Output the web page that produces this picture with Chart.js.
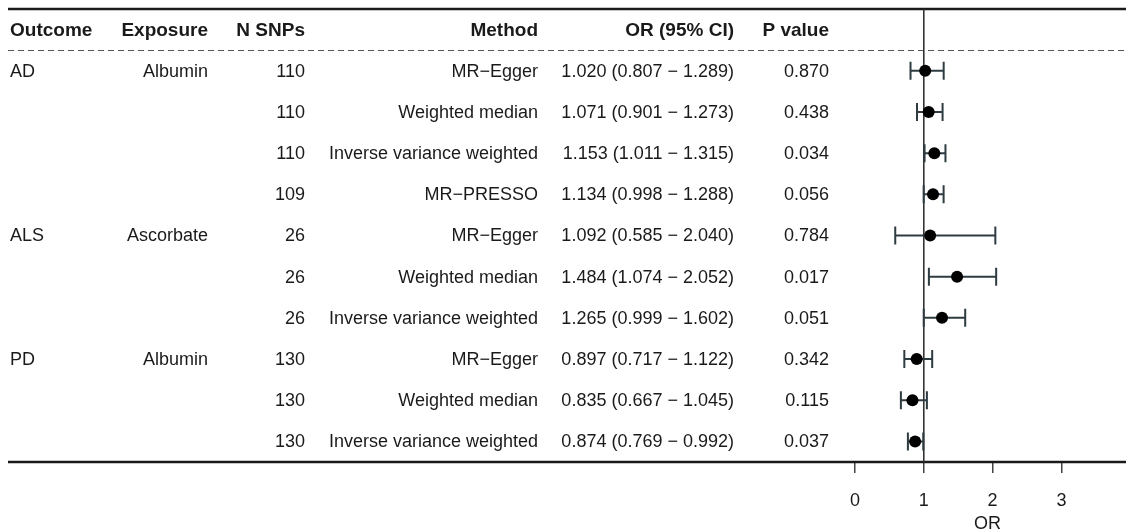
<!DOCTYPE html>
<html>
<head>
<meta charset="utf-8">
<script src="https://cdn.jsdelivr.net/npm/chart.js@4/dist/chart.umd.min.js"></script>
<style>
  html, body { margin: 0; padding: 0; background: #fff; }
</style>
</head>
<body>
<canvas id="forest" width="1126" height="532"></canvas>
<script>
// MR results, one entry per row
const outcomes = ['AD', '', '', '', 'ALS', '', '', 'PD', '', ''];
const exposures = ['Albumin', '', '', '', 'Ascorbate', '', '', 'Albumin', '', ''];
const nSnps = [110, 110, 110, 109, 26, 26, 26, 130, 130, 130];
const methods = ['MR−Egger', 'Weighted median', 'Inverse variance weighted', 'MR−PRESSO',
                 'MR−Egger', 'Weighted median', 'Inverse variance weighted',
                 'MR−Egger', 'Weighted median', 'Inverse variance weighted'];
const orValues = [1.020, 1.071, 1.153, 1.134, 1.092, 1.484, 1.265, 0.897, 0.835, 0.874];
const ciLower = [0.807, 0.901, 1.011, 0.998, 0.585, 1.074, 0.999, 0.717, 0.667, 0.769];
const ciUpper = [1.289, 1.273, 1.315, 1.288, 2.040, 2.052, 1.602, 1.122, 1.045, 0.992];
const pValues = ['0.870', '0.438', '0.034', '0.056', '0.784', '0.017', '0.051', '0.342', '0.115', '0.037'];
const headers = ['Outcome', 'Exposure', 'N SNPs', 'Method', 'OR (95% CI)', 'P value'];
const xTicks = [0, 1, 2, 3];

const FONT = '"Liberation Sans", Arial, sans-serif';
const INK = '#1a1a1a';

// table columns: x anchor and alignment
const columns = [
  { x: 10, align: 'left' },
  { x: 208, align: 'right' },
  { x: 305, align: 'right' },
  { x: 538, align: 'right' },
  { x: 734, align: 'right' },
  { x: 829, align: 'right' }
];

function rowCells(i) {
  return [
    outcomes[i],
    exposures[i],
    String(nSnps[i]),
    methods[i],
    orValues[i].toFixed(3) + ' (' + ciLower[i].toFixed(3) + ' − ' + ciUpper[i].toFixed(3) + ')',
    pValues[i]
  ];
}

// rules, reference line, error bars and the table text
const forestPlugin = {
  id: 'forest',
  beforeDatasetsDraw(chart) {
    const { ctx, chartArea, scales: { x, y } } = chart;
    const W = chart.width;
    ctx.save();

    // top and bottom rules
    ctx.strokeStyle = INK;
    ctx.lineWidth = 2.5;
    [-0.5, 10.5].forEach(v => {
      const py = Math.round(y.getPixelForValue(v));
      ctx.beginPath();
      ctx.moveTo(8, py);
      ctx.lineTo(W, py);
      ctx.stroke();
    });

    // dashed rule under the header
    ctx.strokeStyle = '#555';
    ctx.lineWidth = 1;
    ctx.setLineDash([6, 4]);
    const dy = Math.round(y.getPixelForValue(0.5)) + 0.5;
    ctx.beginPath();
    ctx.moveTo(8, dy);
    ctx.lineTo(W, dy);
    ctx.stroke();
    ctx.setLineDash([]);

    // line of no effect at OR = 1
    const x1 = x.getPixelForValue(1);
    ctx.strokeStyle = '#333';
    ctx.lineWidth = 1.6;
    ctx.beginPath();
    ctx.moveTo(x1, chartArea.top);
    ctx.lineTo(x1, chartArea.bottom);
    ctx.stroke();

    // confidence intervals with caps
    ctx.strokeStyle = '#2e3b41';
    ctx.lineWidth = 2;
    orValues.forEach((_, i) => {
      const py = y.getPixelForValue(i + 1);
      const xl = x.getPixelForValue(ciLower[i]);
      const xh = x.getPixelForValue(ciUpper[i]);
      ctx.beginPath();
      ctx.moveTo(xl, py);
      ctx.lineTo(xh, py);
      ctx.moveTo(xl, py - 9);
      ctx.lineTo(xl, py + 9);
      ctx.moveTo(xh, py - 9);
      ctx.lineTo(xh, py + 9);
      ctx.stroke();
    });
    ctx.restore();
  },
  afterDraw(chart) {
    const { ctx, scales: { y } } = chart;
    ctx.save();
    ctx.fillStyle = INK;
    ctx.textBaseline = 'middle';

    ctx.font = 'bold 19px ' + FONT;
    const hy = y.getPixelForValue(0) + 1;
    headers.forEach((h, c) => {
      ctx.textAlign = columns[c].align;
      ctx.fillText(h, columns[c].x, hy);
    });

    ctx.font = '18px ' + FONT;
    orValues.forEach((_, i) => {
      const py = y.getPixelForValue(i + 1) + 1;
      rowCells(i).forEach((t, c) => {
        ctx.textAlign = columns[c].align;
        ctx.fillText(t, columns[c].x, py);
      });
    });
    ctx.restore();
  }
};

new Chart(document.getElementById('forest'), {
  type: 'scatter',
  data: {
    datasets: [{
      data: orValues.map((v, i) => ({ x: v, y: i + 1 })),
      pointRadius: 6,
      pointHoverRadius: 6,
      backgroundColor: '#000',
      borderWidth: 0
    }]
  },
  options: {
    responsive: false,
    animation: false,
    layout: { padding: { left: 855, top: 9, right: 0, bottom: 0 } },
    plugins: { legend: { display: false }, tooltip: { enabled: false } },
    scales: {
      x: {
        type: 'linear',
        min: 0,
        max: 3.852,
        afterBuildTicks: axis => { axis.ticks = xTicks.map(v => ({ value: v })); },
        afterFit: axis => { axis.height = 70; },
        border: { display: false },
        grid: { drawOnChartArea: false, drawTicks: true, tickLength: 11, color: '#444', lineWidth: 1.5 },
        ticks: { font: { family: FONT, size: 18 }, color: INK, padding: 17, maxRotation: 0 },
        title: { display: true, text: 'OR', font: { family: FONT, size: 18 }, color: INK, padding: { top: 0, bottom: -3 } }
      },
      y: {
        type: 'linear',
        min: -0.5,
        max: 10.5,
        reverse: true,
        display: false
      }
    }
  },
  plugins: [forestPlugin]
});
</script>
</body>
</html>
